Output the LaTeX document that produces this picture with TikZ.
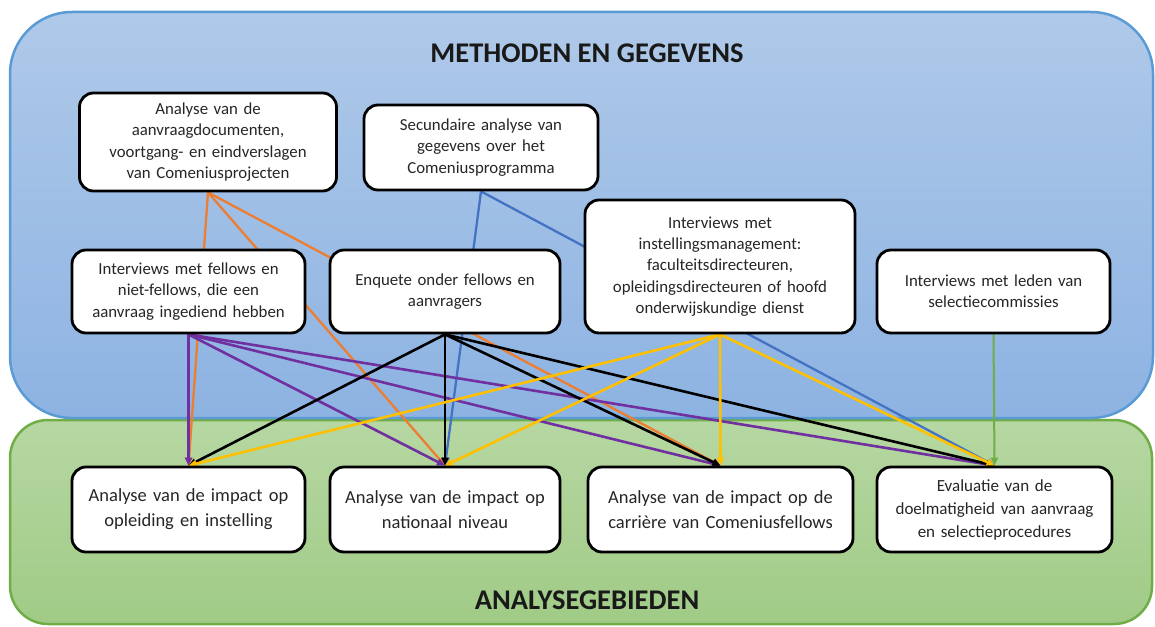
\documentclass[tikz,border=0pt]{standalone}
\usepackage{fontspec}
\setmainfont{Carlito}
\usetikzlibrary{arrows.meta,calc}
\pgfdeclarelayer{bg}
\pgfdeclarelayer{edges}
\pgfsetlayers{bg,edges,main}
\definecolor{cblueA}{HTML}{AFC9E9}
\definecolor{cblueB}{HTML}{8DB3E2}
\definecolor{cblueE}{HTML}{5B9BD5}
\definecolor{cgreenA}{HTML}{B6D7A2}
\definecolor{cgreenB}{HTML}{A0CB86}
\definecolor{cgreenE}{HTML}{70AD47}
\definecolor{corange}{HTML}{ED7D31}
\definecolor{cblue}{HTML}{4472C4}
\definecolor{cpurple}{HTML}{7030A0}
\definecolor{cyellow}{HTML}{FFC000}
\definecolor{cgreen}{HTML}{70AD47}
\tikzset{
  box/.style={draw=black, line width=2.8pt, rounded corners=14pt, fill=white,
    align=center, inner sep=2pt, font=\fontsize{16.8}{21.3}\selectfont, text=black!85},
  boxb/.style={box, font=\fontsize{18.5}{25}\selectfont},
  conn/.style={line width=2.6pt, -{Triangle[length=8pt,width=7pt]}},
}
\begin{document}
\begin{tikzpicture}[x=1pt,y=-1pt]
\useasboundingbox (0,0) rectangle (1155,626);
% nodes
\node[box, minimum width=257pt, minimum height=98pt, text width=250pt] (A) at (208,142)
  {Analyse van de\\aanvraagdocumenten,\\voortgang- en eindverslagen\\van Comeniusprojecten};
\node[box, minimum width=234pt, minimum height=85pt, text width=228pt] (B) at (481,147.5)
  {Secundaire analyse van\\gegevens over het\\Comeniusprogramma};
\node[box, minimum width=233pt, minimum height=83pt, text width=228pt] (C) at (188.5,291.5)
  {Interviews met fellows en\\niet-fellows, die een\\aanvraag ingediend hebben};
\node[box, minimum width=230pt, minimum height=83pt, text width=224pt] (D) at (445,291.5)
  {Enquete onder fellows en\\aanvragers};
\node[box, minimum width=270pt, minimum height=133pt, text width=262pt] (E) at (720,266.5)
  {Interviews met\\instellingsmanagement:\\faculteitsdirecteuren,\\opleidingsdirecteuren of hoofd\\onderwijskundige dienst};
\node[box, minimum width=233pt, minimum height=83pt, text width=228pt] (F) at (993.5,291.5)
  {Interviews met leden van\\selectiecommissies};
\node[boxb, minimum width=233pt, minimum height=85pt, text width=228pt] (G1) at (188.5,509.5)
  {Analyse van de impact op\\opleiding en instelling};
\node[boxb, minimum width=230pt, minimum height=85pt, text width=225pt] (G2) at (445,509.5)
  {Analyse van de impact op\\nationaal niveau};
\node[boxb, minimum width=265pt, minimum height=85pt, text width=260pt] (G3) at (720.5,509.5)
  {Analyse van de impact op de\\carri\`ere van Comeniusfellows};
\node[boxb, minimum width=235pt, minimum height=85pt, text width=230pt, font=\fontsize{17}{23}\selectfont] (G4) at (994.5,509.5)
  {Evaluatie van de\\doelmatigheid van aanvraag\\en selectieprocedures};
% containers
\begin{pgfonlayer}{bg}
  \draw[draw=cgreenE, line width=2.5pt, rounded corners=38pt, top color=cgreenA, bottom color=cgreenB]
    (10,420) rectangle (1152,624);
  \draw[draw=cblueE, line width=2.5pt, rounded corners=62pt, top color=cblueA, bottom color=cblueB]
    (10,12) rectangle (1153,418);
  \node[font=\fontsize{28.5}{32}\selectfont\bfseries, text=black!90] (T1) at (587,53) {METHODEN EN GEGEVENS};
  \node[font=\fontsize{28.5}{32}\selectfont\bfseries, text=black!90] (T2) at (587,600) {ANALYSEGEBIEDEN};
\end{pgfonlayer}
% connectors
\begin{pgfonlayer}{edges}
  \foreach \g in {G1,G2,G3} \draw[conn, corange, line width=2.3pt] (A.south) -- (\g.north);
  \foreach \g in {G2,G4} \draw[conn, cblue, line width=2.3pt] (B.south) -- (\g.north);
  \foreach \g in {G1,G2,G3,G4} \draw[conn, cpurple] (C.south) -- (\g.north);
  \foreach \g in {G1,G2,G3,G4} \draw[conn, black] (D.south) -- (\g.north);
  \foreach \g in {G1,G2,G3,G4} \draw[conn, cyellow] (E.south) -- (\g.north);
  \draw[conn, cgreen, line width=2pt] (F.south) -- (G4.north);
\end{pgfonlayer}
\end{tikzpicture}
\end{document}
